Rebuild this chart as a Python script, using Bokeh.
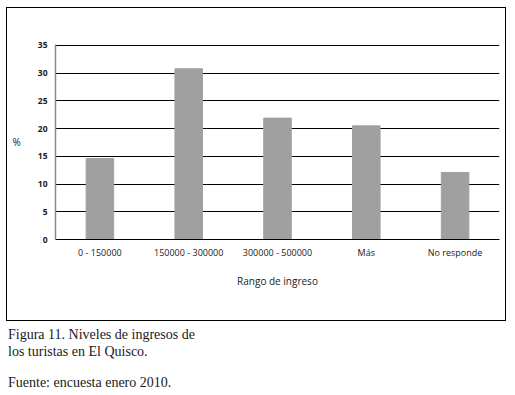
from bokeh.plotting import figure
from bokeh.layouts import column
from bokeh.models import Range1d, FactorRange, FixedTicker, Div, ColumnDataSource
from bokeh.embed import file_html
from bokeh.resources import INLINE

categories = ["0 - 150000", "150000 - 300000", "300000 - 500000", "Más", "No responde"]
values = [14.6, 30.8, 21.9, 20.5, 12.1]
y_ticks = [0, 5, 10, 15, 20, 25, 30, 35]
x_title = "Rango de ingreso"
y_title = "%"
caption_lines = ["Figura 11. Niveles de ingresos de", "los turistas en El Quisco."]
source_line = "Fuente: encuesta enero 2010."

CHART_FONT = "Open Sans"
SERIF = "Liberation Serif"
TXT = "#1a1a1a"

W, H = 500, 314
FL, FT, FR, FB = 48, 37, 492, 231  # frame edges in figure px

src = ColumnDataSource(data=dict(cat=categories, val=values))

p = figure(width=W, height=H,
           x_range=FactorRange(factors=categories, range_padding=0),
           y_range=Range1d(0, 35.18),
           output_backend="svg", toolbar_location=None,
           min_border_left=FL, min_border_right=W - FR,
           min_border_top=FT - 1, min_border_bottom=H - FB,
           margin=(7, 0, 0, 6))
p.styles = {"border": "1.5px solid #000000"}

p.vbar(x="cat", top="val", width=0.31, source=src,
       fill_color="#a0a0a0", line_color="#a0a0a0")

p.outline_line_color = None
p.xgrid.grid_line_color = None
p.ygrid.grid_line_color = "#000000"
p.ygrid.grid_line_width = 1.2
p.ygrid.ticker = FixedTicker(ticks=y_ticks)

ya = p.yaxis[0]
ya.ticker = FixedTicker(ticks=y_ticks)
ya.axis_line_color = "#8a8a8a"
ya.axis_line_width = 1.5
ya.major_tick_line_color = None
ya.minor_tick_line_color = None
ya.major_tick_out = 0
ya.major_tick_in = 0
ya.minor_tick_out = 0
ya.major_label_standoff = 8
ya.major_label_text_font = CHART_FONT
ya.major_label_text_font_size = "8.5px"
ya.major_label_text_font_style = "bold"
ya.major_label_text_color = TXT
ya.axis_label = y_title
ya.axis_label_orientation = "horizontal"
ya.axis_label_text_font = CHART_FONT
ya.axis_label_text_font_size = "10px"
ya.axis_label_text_font_style = "normal"
ya.axis_label_text_color = TXT
ya.axis_label_standoff = 14

xa = p.xaxis[0]
xa.axis_line_color = "#000000"
xa.axis_line_width = 1.2
xa.major_tick_line_color = None
xa.minor_tick_line_color = None
xa.major_tick_out = 0
xa.major_tick_in = 0
xa.minor_tick_out = 0
xa.major_label_standoff = 6
xa.major_label_text_font = CHART_FONT
xa.major_label_text_font_size = "9px"
xa.major_label_text_color = TXT
xa.axis_label = x_title
xa.axis_label_text_font = CHART_FONT
xa.axis_label_text_font_size = "10px"
xa.axis_label_text_font_style = "normal"
xa.axis_label_text_color = TXT
xa.axis_label_standoff = 12

cap_html = (
    f'<div style="font-family:\'{SERIF}\';font-size:14px;color:{TXT};line-height:17px;">'
    + "<br>".join(caption_lines)
    + f'<div style="margin-top:14px;">{source_line}</div></div>'
)
cap = Div(text=cap_html, width=W, height=66, margin=(5, 0, 0, 8))

layout = column(p, cap, spacing=0)

open("out.html", "w").write(file_html(layout, INLINE))
